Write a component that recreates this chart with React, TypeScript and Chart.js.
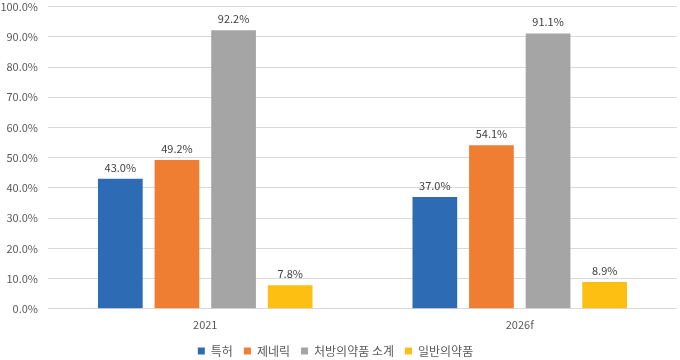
import React, { useEffect, useRef } from "react";
import { Chart, registerables } from "chart.js";

Chart.register(...registerables);

const categories = ["2021", "2026f"];
const seriesNames = ["특허", "제네릭", "처방의약품 소계", "일반의약품"];
const patent = [43.0, 37.0];
const generic = [49.2, 54.1];
const prescriptionTotal = [92.2, 91.1];
const otc = [7.8, 8.9];
const yTicks = [0, 10, 20, 30, 40, 50, 60, 70, 80, 90, 100];
const colors = ["#2E6BB5", "#F07E32", "#A5A5A5", "#FDBF12"];

const FONT = "'Noto Sans CJK KR', 'Noto Sans', sans-serif";
const CANVAS_H = 377;
const CANVAS_OFFSET = -10;

const labelPlugin = {
  id: "valueLabels",
  afterDatasetsDraw(chart: any) {
    const ctx = chart.ctx;
    ctx.save();
    ctx.font = `11px ${FONT}`;
    ctx.fillStyle = "#404040";
    ctx.textAlign = "center";
    ctx.textBaseline = "bottom";
    chart.data.datasets.forEach((ds: any, i: number) => {
      const meta = chart.getDatasetMeta(i);
      meta.data.forEach((bar: any, j: number) => {
        const v = ds.data[j];
        ctx.fillText(v.toFixed(1) + "%", bar.x, bar.y - 6);
      });
    });
    ctx.restore();
  },
};

export default function App() {
  const ref = useRef<HTMLCanvasElement | null>(null);
  useEffect(() => {
    const all = [patent, generic, prescriptionTotal, otc];
    const baseGen = Chart.defaults.plugins.legend.labels.generateLabels;
    const chart = new Chart(ref.current!, {
      type: "bar",
      data: {
        labels: categories,
        datasets: seriesNames.map((name, i) => ({
          label: name,
          data: all[i],
          backgroundColor: colors[i],
          borderWidth: 0,
          categoryPercentage: 0.72,
          barPercentage: 0.79,
        })),
      },
      options: {
        responsive: false,
        animation: false,
        maintainAspectRatio: false,
        layout: { padding: { top: 0, right: 3, left: 0, bottom: 0 } },
        scales: {
          y: {
            min: 0,
            max: 100,
            afterBuildTicks: (axis: any) => {
              axis.ticks = yTicks.map((v) => ({ value: v }));
            },
            afterFit: (axis: any) => {
              axis.width = 48;
            },
            ticks: {
              color: "#595959",
              font: { family: FONT, size: 11 },
              padding: 10,
              callback: (v: any) => Number(v).toFixed(1) + "%",
            },
            grid: { color: "#D9D9D9", drawTicks: false, lineWidth: 1 },
            border: { display: false },
          },
          x: {
            ticks: {
              color: "#595959",
              font: { family: FONT, size: 11 },
              padding: 9,
            },
            grid: { display: false, drawTicks: false },
            border: { display: false },
          },
        },
        plugins: {
          legend: {
            position: "bottom",
            labels: {
              boxWidth: 7,
              boxHeight: 7,
              color: "#595959",
              font: { family: FONT, size: 12 },
              padding: 5,
              generateLabels: (c: any) =>
                baseGen(c).map((l: any) => ({ ...l, text: l.text + "\u2002" })),
            },
          },
          tooltip: { enabled: false },
        },
      },
      plugins: [labelPlugin],
    });
    return () => chart.destroy();
  }, []);
  return (
    <div style={{ position: "fixed", left: 0, top: 0, width: 680, height: 360, overflow: "hidden", background: "#fff" }}>
      <canvas
        ref={ref}
        width={680}
        height={CANVAS_H}
        style={{ display: "block", position: "absolute", left: 0, top: CANVAS_OFFSET }}
      />
    </div>
  );
}
